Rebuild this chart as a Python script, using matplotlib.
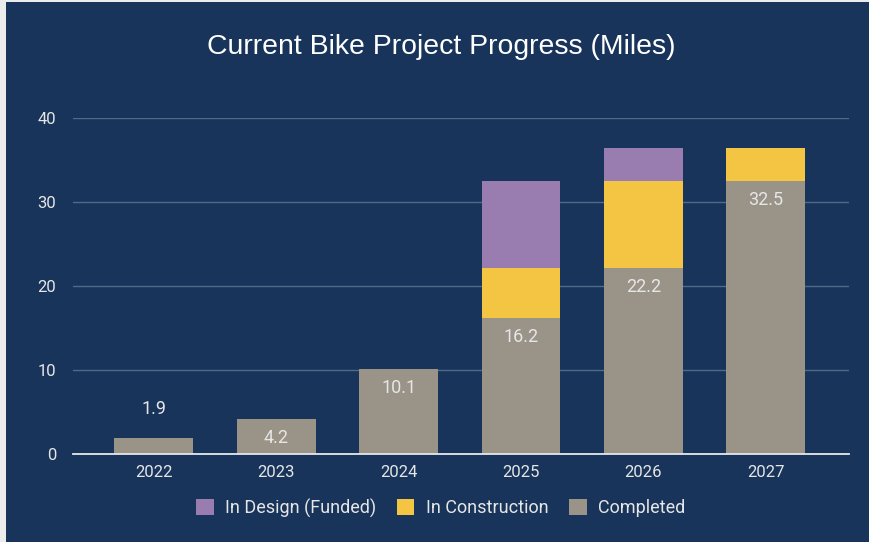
import matplotlib

matplotlib.use("Agg")

import matplotlib.pyplot as plt
import numpy as np

years = ["2022", "2023", "2024", "2025", "2026", "2027"]
completed = [1.9, 4.2, 10.1, 16.2, 22.2, 32.5]
in_construction = [0, 0, 0, 6.0, 10.3, 3.9]
in_design = [0, 0, 0, 10.3, 3.9, 0]
completed_labels = ["1.9", "4.2", "10.1", "16.2", "22.2", "32.5"]

BG = "#18345a"
GRID = "#516a88"
TEXT = "#e6e6e6"
C_DONE = "#9a9488"
C_BUILD = "#f4c542"
C_DESIGN = "#9a7db0"

plt.rcParams["font.family"] = ["Roboto", "DejaVu Sans"]

fig = plt.figure(figsize=(8.69, 5.42), dpi=100, facecolor=BG)
# thin light margin on the left and top edges
for rect in [(0, 0, 6 / 869, 1), (0, 1 - 2 / 542, 1, 2 / 542)]:
    fig.patches.append(
        plt.Rectangle(rect[:2], rect[2], rect[3], transform=fig.transFigure,
                      facecolor="#ececec", edgecolor="none")
    )

ax = fig.add_axes([73 / 869, (542 - 454) / 542, (849 - 73) / 869, (454 - 118) / 542])
ax.set_facecolor(BG)

x = np.arange(len(years))
width = 0.645
done = np.array(completed)
build = np.array(in_construction)
design = np.array(in_design)

ax.bar(x, done, width, color=C_DONE, label="Completed", zorder=2)
ax.bar(x, build, width, bottom=done, color=C_BUILD, label="In Construction", zorder=2)
ax.bar(x, design, width, bottom=done + build, color=C_DESIGN,
       label="In Design (Funded)", zorder=2)

for xi, val, lab in zip(x, done, completed_labels):
    # short bars get the label above, the rest inside near the top
    y = val + 3.4 if val < 3 else val - 2.3
    ax.text(xi, y, lab, ha="center", va="center", color=TEXT, fontsize=13)

ax.set_xlim(-0.66, 5.68)
ax.set_ylim(0, 40)
ax.set_yticks([0, 10, 20, 30, 40])
ax.set_xticks(x)
ax.set_xticklabels(years)
ax.tick_params(axis="both", length=0, colors=TEXT, labelsize=12)
ax.tick_params(axis="y", pad=12)
ax.tick_params(axis="x", pad=8)
ax.grid(axis="y", color=GRID, linewidth=1, zorder=1)
for side in ["top", "right", "left"]:
    ax.spines[side].set_visible(False)
ax.spines["bottom"].set_color("#e8e8e8")
ax.spines["bottom"].set_linewidth(1.3)
ax.spines["bottom"].set_zorder(3)

fig.text(441 / 869, 1 - 47 / 542, "Current Bike Project Progress (Miles)",
         ha="center", va="center", color="white", fontsize=20.4,
         family=["Liberation Sans", "DejaVu Sans"])

handles, labels = ax.get_legend_handles_labels()
order = [2, 1, 0]
leg = fig.legend([handles[i] for i in order], [labels[i] for i in order],
                 loc="center", bbox_to_anchor=(441 / 869, 1 - 508 / 542),
                 ncol=3, frameon=False, fontsize=13, labelcolor=TEXT,
                 handlelength=0.95, handleheight=0.95, handletextpad=0.65,
                 columnspacing=1.15)

fig.savefig("out.png", dpi=100, facecolor=fig.get_facecolor())
